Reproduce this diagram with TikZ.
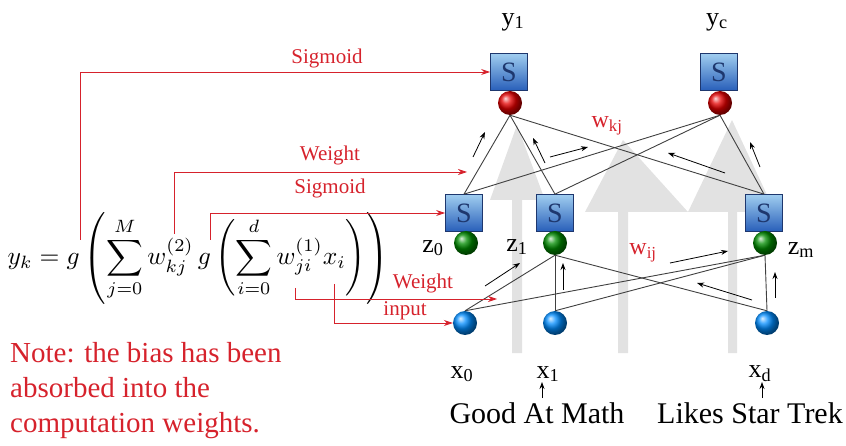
\documentclass[tikz,border=0pt]{standalone}
\usepackage{fontspec}
\setmainfont{Liberation Serif}
\usepackage{amsmath}
\usetikzlibrary{arrows.meta}
\usetikzlibrary{positioning}
\definecolor{notered}{RGB}{214,34,44}
\definecolor{boxtop}{RGB}{160,205,240}
\definecolor{boxbot}{RGB}{40,95,185}
\definecolor{boxedge}{RGB}{30,55,110}
\definecolor{flowgray}{RGB}{226,226,226}
\tikzset{
  sbox/.style={draw=boxedge, line width=0.7pt, minimum width=37pt, minimum height=37pt, inner sep=0pt,
    top color=boxtop, bottom color=boxbot, text=boxedge, font=\fontsize{28}{28}\selectfont},
  unit/.style={circle, minimum size=24pt, inner sep=0pt},
  outball/.style={unit, ball color=red!90!black},
  hidball/.style={unit, ball color=green!55!black},
  inball/.style={unit, ball color=cyan!55!blue},
  wire/.style={draw=black!75, line width=0.9pt},
  flow/.style={-{Stealth[length=7pt,width=5pt]}, line width=0.8pt},
  redline/.style={draw=notered, line width=0.8pt},
  redarrow/.style={redline, -{Stealth[length=9pt,width=6pt]}},
  redlabel/.style={text=notered, font=\fontsize{21}{21}\selectfont, inner sep=1pt},
  varlabel/.style={font=\fontsize{26}{26}\selectfont, inner sep=1pt}
}
\begin{document}
\begin{tikzpicture}[x=1pt,y=-1pt]
\useasboundingbox (0,0) rectangle (846,446);

% grey flow arrows behind the network
\fill [flowgray] (512,353) -- (512,200) -- (490,200) -- (517,125) -- (545,200) -- (522,200) -- (522,353) -- cycle;
\fill [flowgray] (618,353) -- (618,212) -- (585,212) -- (623,140) -- (688,212) -- (628,212) -- (628,353) -- cycle;
\fill [flowgray] (728,353) -- (728,212) -- (688,212) -- (732,120) -- (775,212) -- (737,212) -- (737,353) -- cycle;

% output layer
\node [sbox] (outS1) at (509,72) {S};
\node [sbox] (outSc) at (719,72) {S};
\node [outball] (outB1) at (510,103) {};
\node [outball] (outBc) at (720,103) {};

% hidden layer
\node [sbox] (hidS0) at (464,213) {S};
\node [sbox] (hidS1) at (555,213) {S};
\node [sbox] (hidSm) at (764,213) {S};
\node [hidball] (hidB0) at (466,243) {};
\node [hidball] (hidB1) at (555,243) {};
\node [hidball] (hidBm) at (765,243) {};

% input layer
\node [inball] (inB0) at (465,323) {};
\node [inball] (inB1) at (555,323) {};
\node [inball] (inBd) at (767,323) {};

% hidden -> output weights
\foreach \o in {outB1,outBc} {
  \foreach \h in {hidS0,hidS1,hidSm} {
    \draw [wire] (\o.south) -- (\h.north);
  }
}
% input -> hidden weights
\foreach \h in {hidB1,hidBm} {
  \foreach \i in {inB0,inB1,inBd} {
    \draw [wire] (\h.south) -- (\i.north);
  }
}

% small direction arrows
\draw [flow] (473,157) -- (485,132);
\draw [flow] (545,163) -- (533,138);
\draw [flow] (550,157) -- (588,147);
\draw [flow] (725,173) -- (668,153);
\draw [flow] (760,167) -- (750,142);
\draw [flow] (485,286) -- (520,263);
\draw [flow] (563,290) -- (563,263);
\draw [flow] (670,263) -- (728,251);
\draw [flow] (752,300) -- (697,283);
\draw [flow] (775,298) -- (775,272);

% unit labels
\node [varlabel] (lbly1) at (513,22) {y\textsubscript{1}};
\node [varlabel] (lblyc) at (717,22) {y\textsubscript{c}};
\node [varlabel] (lblz0) at (433,248) {z\textsubscript{0}};
\node [varlabel] (lblz1) at (517,247) {z\textsubscript{1}};
\node [varlabel] (lblzm) at (801,250) {z\textsubscript{m}};
\node [varlabel] (lblx0) at (462,374) {x\textsubscript{0}};
\node [varlabel] (lblx1) at (548,374) {x\textsubscript{1}};
\node [varlabel] (lblxd) at (760,374) {x\textsubscript{d}};
\node [redlabel, font=\fontsize{24}{24}\selectfont] (lblwkj) at (607,126) {w\textsubscript{kj}};
\node [redlabel, font=\fontsize{24}{24}\selectfont] (lblwij) at (643,253) {w\textsubscript{ij}};

% feature names
\node [font=\fontsize{30}{30}\selectfont] (math) at (537,413) {Good At Math};
\node [font=\fontsize{30}{30}\selectfont] (trek) at (750,413) {Likes Star Trek};
\draw [flow] (542,398) -- (542,382);
\draw [flow] (762,398) -- (762,382);

% the formula
\node [scale=2.55, inner sep=0pt] (formula) at (198,258) {$\displaystyle y_k = g\left(\sum_{j=0}^{M} w_{kj}^{(2)}\, g\left(\sum_{i=0}^{d} w_{ji}^{(1)} x_i\right)\right)$};

% red call-outs from the formula
\coordinate (gOut) at (80,240);
\coordinate (wTwo) at (174,234);
\coordinate (gHid) at (210,240);
\coordinate (wOne) at (295,288);
\coordinate (xIn) at (334,284);
\draw [redarrow] (gOut) |- (outS1.west);
\draw [redarrow] (wTwo) |- (467,172);
\draw [redarrow] (gHid) |- (hidS0.west);
\draw [redarrow] (wOne) |- (497,299);
\draw [redarrow] (xIn) |- (inB0.west);
\node [redlabel] (sig1) at (327,58) {Sigmoid};
\node [redlabel] (wgt1) at (330,155) {Weight};
\node [redlabel] (sig2) at (330,188) {Sigmoid};
\node [redlabel] (wgt2) at (423,283) {Weight};
\node [redlabel] (inp) at (405,311) {input};

% note
\node [text=notered, font=\fontsize{29}{35}\selectfont, align=left, anchor=north west, inner sep=0pt] (note) at (10,342)
  {Note: the bias has been\\absorbed into the\\computation weights.};

\end{tikzpicture}
\end{document}
